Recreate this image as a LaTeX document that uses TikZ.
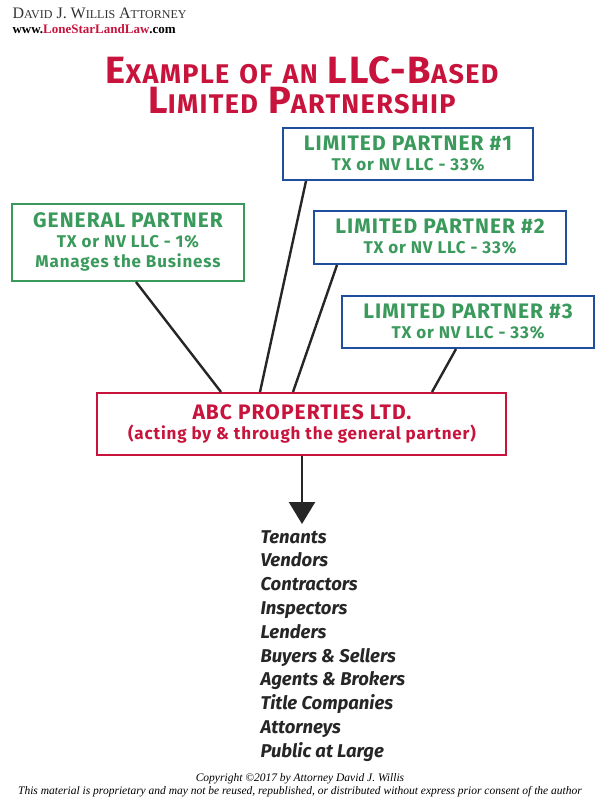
\documentclass[tikz,border=0pt]{standalone}
\usepackage{fontspec}
\setmainfont{Liberation Serif}
\newfontfamily\fira{Fira Sans}
\newfontfamily\firaw{Fira Sans}[LetterSpace=5]
\usetikzlibrary{arrows.meta}
\definecolor{crim}{HTML}{C8143C}
\definecolor{grn}{HTML}{3A9A5B}
\definecolor{blu}{HTML}{1F4E9C}
\newcommand{\bigsc}[2]{{\fontsize{38}{38}\selectfont #1}{\fontsize{27}{27}\selectfont #2}}
\newcommand{\sub}[1]{{\fontsize{17}{19}\selectfont #1}}
\begin{document}
\begin{tikzpicture}[x=1pt,y=-1pt,
 box/.style={draw=#1,line width=2pt,fill=white,inner sep=0},
 ttl/.style={font=\firaw\bfseries\fontsize{21}{23}\selectfont,text=grn,align=center},
 ln/.style={line width=2.4pt,draw=black!85},
 item/.style={font=\fira\bfseries\itshape\fontsize{18.5}{18}\selectfont,anchor=base west,text=black!85}]
\useasboundingbox[fill=white] (0,0) rectangle (600,800);
\node[anchor=west,font=\fontsize{16}{16}\selectfont,text=black!80] (h1) at (9,13) {D{\fontsize{12}{12}\selectfont AVID} J. W{\fontsize{12}{12}\selectfont ILLIS} A{\fontsize{12}{12}\selectfont TTORNEY}};
\node[anchor=west,font=\bfseries\fontsize{13}{13}\selectfont] (h2) at (9,29) {www.\textcolor{crim}{LoneStarLandLaw}.com};
\node[anchor=base,inner sep=0,font=\firaw\bfseries,text=crim] (title1) at (302,83) {\bigsc{E}{XAMPLE}\hspace{10pt}\bigsc{}{OF}\hspace{10pt}\bigsc{}{AN}\hspace{10pt}\bigsc{LLC-B}{ASED}};
\node[anchor=base,inner sep=0,font=\firaw\bfseries,text=crim] (title2) at (302,113) {\bigsc{L}{IMITED}\hspace{10pt}\bigsc{P}{ARTNERSHIP}};
% boxes
\draw[box=blu] (283,128) rectangle (533,180); \node[ttl] (lp1) at (408,154) {LIMITED PARTNER \#1\\[-3pt]\sub{TX or NV LLC - 33\%}};
\draw[box=grn] (12,204) rectangle (244,281); \node[ttl] (gp) at (128,242) {GENERAL PARTNER\\[-3pt]\sub{TX or NV LLC - 1\%}\\[-3pt]\sub{Manages the Business}};
\draw[box=blu] (314,211) rectangle (566,264); \node[ttl] (lp2) at (440,237) {LIMITED PARTNER \#2\\[-3pt]\sub{TX or NV LLC - 33\%}};
\draw[box=blu] (342,296) rectangle (594,348); \node[ttl] (lp3) at (468,322) {LIMITED PARTNER \#3\\[-3pt]\sub{TX or NV LLC - 33\%}};
\draw[box=crim] (97,393) rectangle (506,455); \node[ttl,text=crim] (abc) at (302,424) {ABC PROPERTIES LTD.\\[-3pt]\sub{(acting by \& through the general partner)}};
\coordinate (g1) at (136,282); \coordinate (g2) at (221,392);
\coordinate (a1) at (306,181); \coordinate (a2) at (260,392);
\coordinate (b1) at (337,265); \coordinate (b2) at (293,392);
\coordinate (c1) at (456,349); \coordinate (c2) at (432,392);
\draw[ln] (g1)--(g2); \draw[ln] (a1)--(a2); \draw[ln] (b1)--(b2); \draw[ln] (c1)--(c2);
\coordinate (s) at (302,456); \coordinate (e) at (302,524);
\draw[ln,-{Triangle[length=22pt,width=26pt]}] (s)--(e);
\foreach \t [count=\i from 0] in {Tenants,Vendors,Contractors,Inspectors,Lenders,Buyers \& Sellers,Agents \& Brokers,Title Companies,Attorneys,Public at Large}
 \node[item] (it\i) at (257,543+23.8*\i) {\t};
\node[font=\itshape\fontsize{11.5}{11}\selectfont] (c1t) at (300,779) {Copyright \textcopyright2017 by Attorney David J. Willis};
\node[font=\itshape\fontsize{11.5}{11}\selectfont] (c2t) at (300,792) {This material is proprietary and may not be reused, republished, or distributed without express prior consent of the author};
\end{tikzpicture}
\end{document}
